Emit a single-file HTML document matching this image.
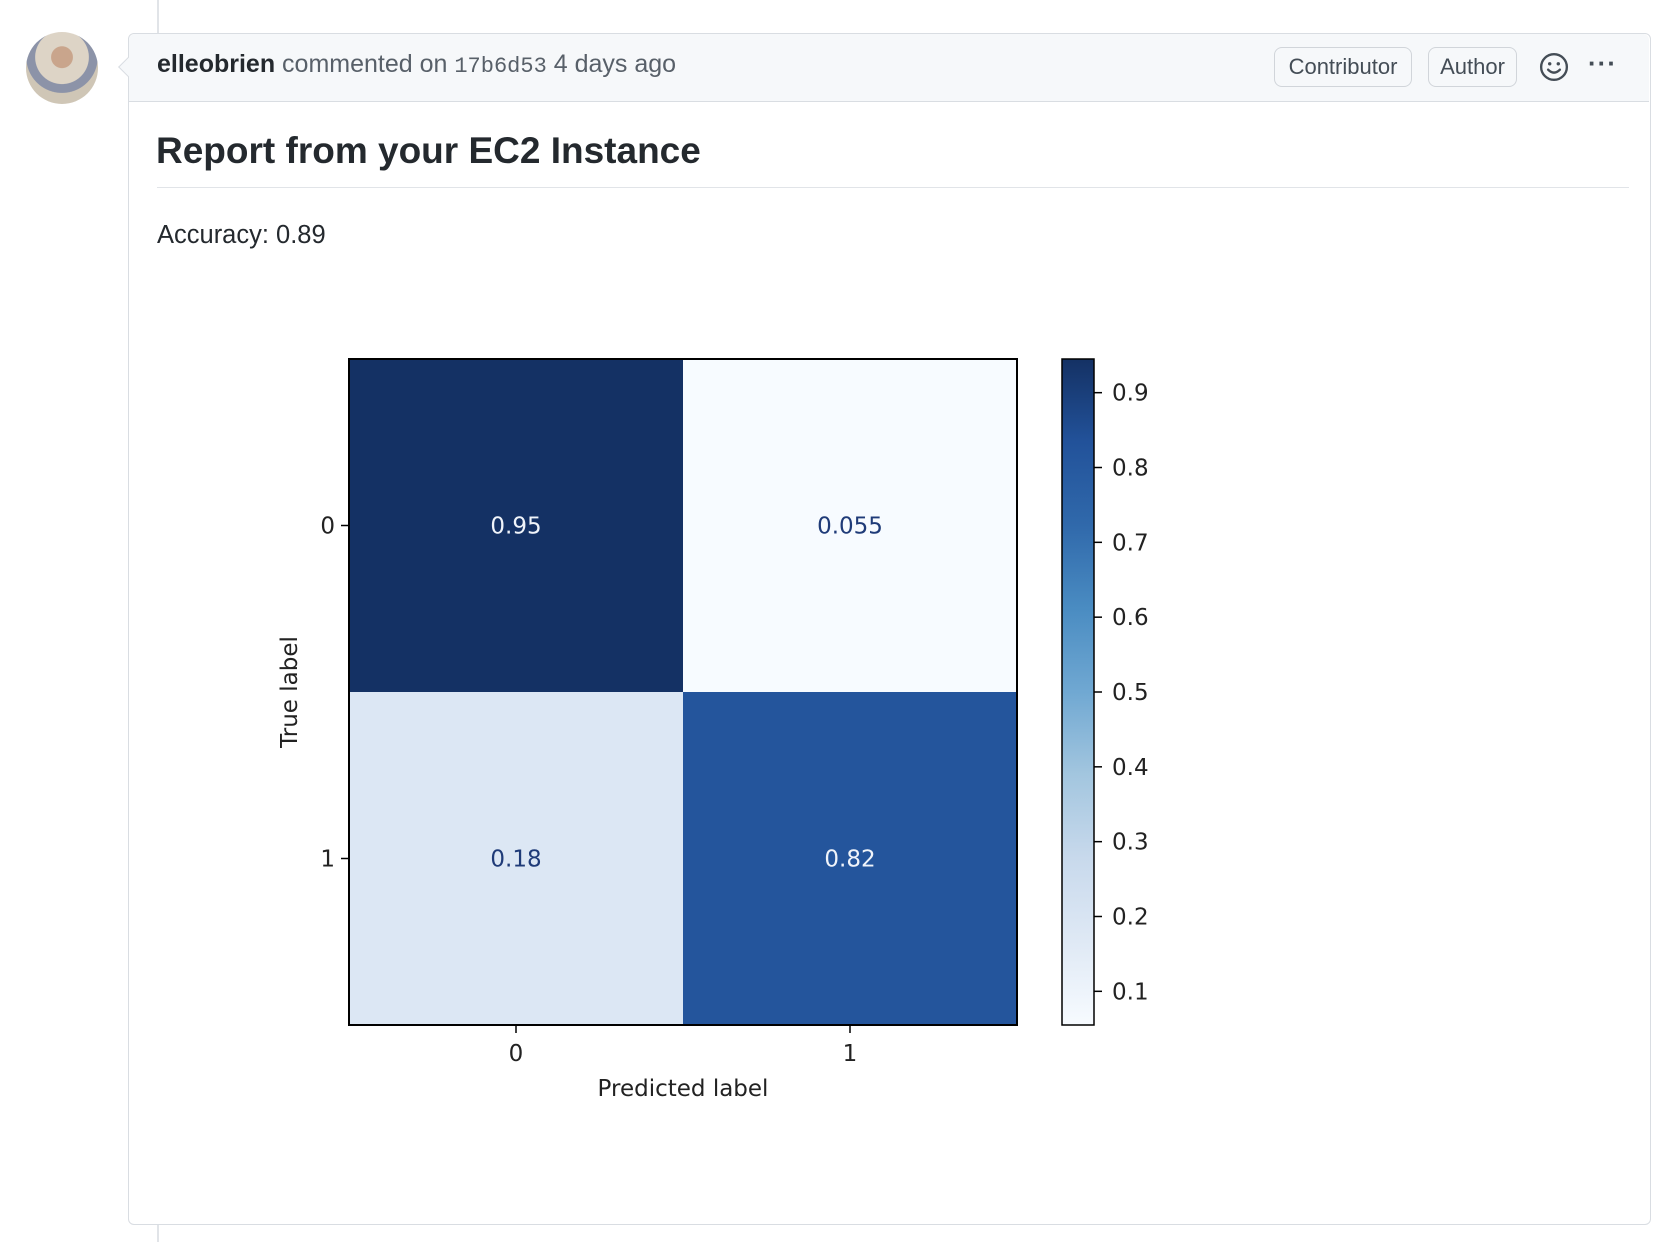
<!DOCTYPE html>
<html><head><meta charset="utf-8">
<style>
body{margin:0;width:1678px;height:1242px;background:#fff;position:relative;overflow:hidden;font-family:"Liberation Sans",sans-serif}
.abs{position:absolute}
</style></head>
<body>
<div class="abs" style="left:157px;top:0;width:2px;height:1242px;background:#e1e4e8"></div>
<div class="abs" style="left:26px;top:32px;width:72px;height:72px;border-radius:50%;background:radial-gradient(circle at 50% 35%,#c9a58c 0 18%,#ddd4c6 19% 45%,#8c93a8 46% 60%,#cfc6b6 61%)"></div>
<div class="abs" style="left:128px;top:33px;width:1521px;height:1190px;border:1px solid #d9dde2;border-radius:6px;background:#fff"></div>
<div class="abs" style="left:129px;top:34px;width:1520px;height:67px;background:#f6f8fa;border-bottom:1px solid #d9dde2;border-radius:6px 6px 0 0"></div>
<div class="abs" style="left:121px;top:60px;width:13px;height:13px;background:#f6f8fa;border-left:1px solid #d9dde2;border-bottom:1px solid #d9dde2;transform:rotate(45deg)"></div>
<div class="abs" style="left:157px;top:50px;font-size:25px;color:#586069;white-space:nowrap"><b style="color:#24292e">elleobrien</b> commented on <span style="font-family:'Liberation Mono',monospace;font-size:22px">17b6d53</span> <span>4 days ago</span></div>
<div class="abs" style="left:1274px;top:47px;width:138px;height:40px;border:1.5px solid #d1d5da;border-radius:8px;box-sizing:border-box;font-size:22px;color:#444d56;text-align:center;line-height:37px">Contributor</div>
<div class="abs" style="left:1428px;top:47px;width:89px;height:40px;border:1.5px solid #d1d5da;border-radius:8px;box-sizing:border-box;font-size:22px;color:#444d56;text-align:center;line-height:37px">Author</div>
<svg class="abs" style="left:1539px;top:52px" width="30" height="30" viewBox="0 0 28 28"><circle cx="14" cy="14" r="12" fill="none" stroke="#444d56" stroke-width="2.2"/><circle cx="10" cy="11" r="1.6" fill="#444d56"/><circle cx="18" cy="11" r="1.6" fill="#444d56"/><path d="M8.5 16.5 Q14 22 19.5 16.5" fill="none" stroke="#444d56" stroke-width="2.2" stroke-linecap="round"/></svg>
<div class="abs" style="left:1588px;top:48px;font-size:26px;color:#444d56;letter-spacing:1px;font-weight:bold">···</div>
<div class="abs" style="left:156px;top:130px;font-size:37px;font-weight:bold;color:#24292e;white-space:nowrap">Report from your EC2 Instance</div>
<div class="abs" style="left:157px;top:187px;width:1472px;height:1px;background:#e1e4e8"></div>
<div class="abs" style="left:157px;top:221px;font-size:25.5px;color:#24292e">Accuracy: 0.89</div>

<svg class="abs" id="chart" style="left:0;top:0" width="1678" height="1242" font-family="DejaVu Sans, sans-serif"></svg>
<script>
const classes=["0","1"];
const row0=[0.95,0.055];
const row1=[0.18,0.82];
const labels0=["0.95","0.055"];
const labels1=["0.18","0.82"];
const cbTicks=[0.1,0.2,0.3,0.4,0.5,0.6,0.7,0.8,0.9];
const vmin=0.055, vmax=0.945;
const stops=["#f7fbff","#dfe9f5","#c8d9ec","#a3c6df","#70a8d2","#4a8cc2","#3069ab","#22529a","#143164"];
function hex(c){return [1,3,5].map(i=>parseInt(c.substr(i,2),16));}
function cmap(v){let t=Math.max(0,Math.min(1,(v-vmin)/(vmax-vmin)))*(stops.length-1);let i=Math.min(Math.floor(t),stops.length-2),f=t-i;const a=hex(stops[i]),b=hex(stops[i+1]);return "rgb("+a.map((x,k)=>Math.round(x+(b[k]-x)*f)).join(",")+")";}
const L=349,R=1017,T=359,B=1025;
const n=classes.length, cw=(R-L)/n, ch=(B-T)/n;
function xs(j){return L+j*cw;} function ys(i){return T+i*ch;}
const cbL=1062,cbR=1094;
function cbY(v){return B-(v-vmin)/(vmax-vmin)*(B-T);}
const svg=document.getElementById('chart');const NS="http://www.w3.org/2000/svg";
function mk(tag,attrs,parent){const e=document.createElementNS(NS,tag);for(const k in attrs)e.setAttribute(k,attrs[k]);(parent||svg).appendChild(e);return e;}
const rows=[row0,row1], labs=[labels0,labels1];
rows.forEach((r,i)=>r.forEach((v,j)=>{
 const c=mk('rect',{x:xs(j),y:ys(i),width:cw,height:ch,fill:cmap(v)});
 
 
}));
rows.forEach((r,i)=>r.forEach((v,j)=>{
 const t=mk('text',{x:xs(j)+cw/2,y:ys(i)+ch/2+8,'text-anchor':'middle','font-size':23,fill:(v-vmin)/(vmax-vmin)>0.5?'#f0f4fa':'#1f3b78'});
 t.textContent=labs[i][j];
 
 
}));
const fr=mk('rect',{x:L,y:T,width:R-L,height:B-T,fill:'none',stroke:'#000','stroke-width':2});


classes.forEach((c,k)=>{
 mk('line',{x1:L-8,x2:L,y1:ys(k)+ch/2,y2:ys(k)+ch/2,stroke:'#000','stroke-width':1.5});
 const ty=mk('text',{x:L-14,y:ys(k)+ch/2+8,'text-anchor':'end','font-size':23,fill:'#222'});ty.textContent=c;
 
 
 mk('line',{x1:xs(k)+cw/2,x2:xs(k)+cw/2,y1:B,y2:B+8,stroke:'#000','stroke-width':1.5});
 const tx=mk('text',{x:xs(k)+cw/2,y:B+36,'text-anchor':'middle','font-size':23,fill:'#222'});tx.textContent=c;
 
 
});
const xt=mk('text',{x:(L+R)/2,y:1096,'text-anchor':'middle','font-size':23,fill:'#222'});xt.textContent='Predicted label';


const yt=mk('text',{x:0,y:0,'text-anchor':'middle','font-size':23,fill:'#222',transform:'translate(297,'+((T+B)/2)+') rotate(-90)'});yt.textContent='True label';


const defs=mk('defs',{});const g=mk('linearGradient',{id:'cbg',x1:0,y1:1,x2:0,y2:0},defs);
stops.forEach((s,i)=>mk('stop',{offset:i/(stops.length-1),'stop-color':s},g));
const cb=mk('rect',{x:cbL,y:T,width:cbR-cbL,height:B-T,fill:'url(#cbg)',stroke:'#000','stroke-width':1.5});


cbTicks.forEach(v=>{
 mk('line',{x1:cbR,x2:cbR+8,y1:cbY(v),y2:cbY(v),stroke:'#000','stroke-width':1.5});
 const t=mk('text',{x:cbR+18,y:cbY(v)+8,'font-size':23,fill:'#222'});t.textContent=v.toFixed(1);
 
 
});
</script>
</body></html>
